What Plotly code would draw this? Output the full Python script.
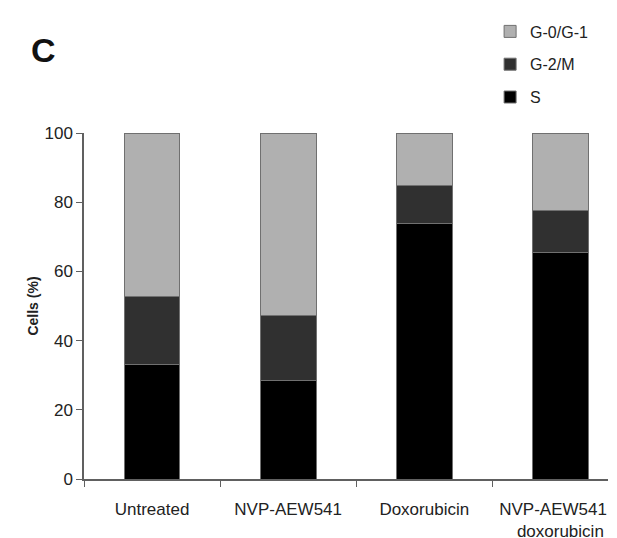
import plotly.graph_objects as go

categories = ["Untreated", "NVP-AEW541", "Doxorubicin", "NVP-AEW541 +<br>doxorubicin"]
s_phase = [33.1, 28.4, 73.9, 65.4]
g2m_phase = [19.6, 18.8, 10.8, 12.1]
g0g1_phase = [47.3, 52.8, 15.3, 22.5]

series = [
    ("S", s_phase, "#000000", 3),
    ("G-2/M", g2m_phase, "#303030", 2),
    ("G-0/G-1", g0g1_phase, "#b0b0b0", 1),
]

font_family = "Liberation Sans, Arial, sans-serif"

# page body has an 8px margin, so the figure is sized/offset to compensate
W, H = 609, 530
ML, MR, MT, MB = 76, 9, 125, 59
PW, PH = W - ML - MR, H - MT - MB

fig = go.Figure()
for name, vals, col, rank in series:
    fig.add_trace(go.Bar(
        x=categories, y=vals, name=name, legendgroup=name, legendrank=rank,
        marker=dict(color=col, line=dict(color="#707070", width=1)),
        width=0.41,
    ))

fig.update_layout(
    barmode="stack",
    width=W, height=H,
    margin=dict(l=ML, r=MR, t=MT, b=MB, autoexpand=False),
    paper_bgcolor="white", plot_bgcolor="white",
    font=dict(family=font_family, size=17, color="#222222"),
    showlegend=True,
    legend=dict(
        traceorder="grouped", tracegroupgap=9,
        x=0.775, xanchor="left", y=1 + (MT - 6.5) / PH, yanchor="top",
        font=dict(size=16, color="#222222"),
        bgcolor="rgba(0,0,0,0)",
    ),
    xaxis=dict(
        type="category", range=[-0.5, 3.35], automargin=False,
        showline=True, linecolor="#606060", linewidth=1.5,
        ticks="outside", tickson="boundaries", ticklen=6, tickcolor="#606060",
        showgrid=False, zeroline=False,
        tickfont=dict(size=17), ticklabelstandoff=14,
    ),
    yaxis=dict(
        range=[0, 100], tickvals=[0, 20, 40, 60, 80, 100], automargin=False,
        showline=True, linecolor="#606060", linewidth=1.5,
        ticks="outside", ticklen=6, tickcolor="#606060",
        showgrid=False, zeroline=False,
        tickfont=dict(size=17),
        title=dict(text="<b>Cells (%)</b>", font=dict(size=14), standoff=3),
    ),
    annotations=[dict(
        text="<b>C</b>", xref="paper", yref="paper",
        x=(21 - ML) / PW, y=(H - MB - 42) / PH,
        xanchor="left", yanchor="middle", showarrow=False,
        font=dict(size=34, color="#111111"),
    )],
)

fig.write_html("out.html")
